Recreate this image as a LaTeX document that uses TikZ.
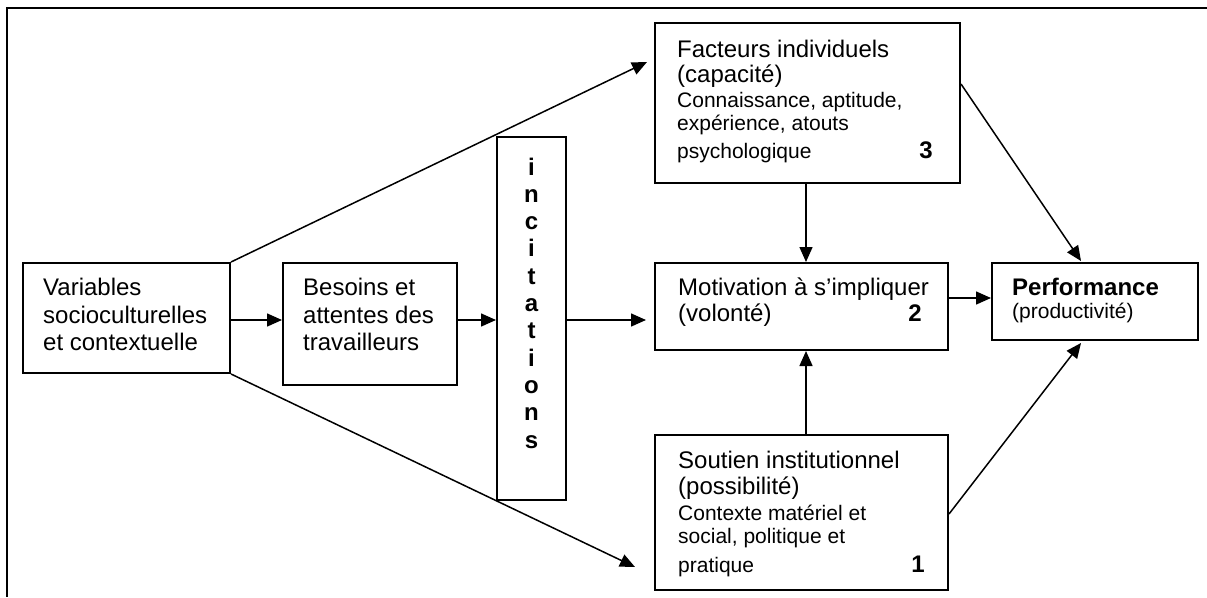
\documentclass[tikz,border=0pt]{standalone}
\usepackage{fontspec}
\setmainfont{Liberation Sans}
\usetikzlibrary{arrows.meta,calc}
\tikzset{
  boxnode/.style={draw, line width=2pt, rectangle, inner sep=0pt},
  arr/.style={line width=1.5pt, -{Triangle[length=15pt,width=13pt]}},
  big/.style={anchor=base west, inner sep=0pt, font=\fontsize{24}{26}\selectfont},
  small/.style={anchor=base west, inner sep=0pt, font=\fontsize{21}{23}\selectfont},
  num/.style={anchor=base east, inner sep=0pt, font=\fontsize{24}{26}\selectfont\bfseries},
  letter/.style={anchor=base, inner sep=0pt, font=\fontsize{24}{26}\selectfont\bfseries}
}
\begin{document}
\begin{tikzpicture}[x=1pt,y=-1pt]
\useasboundingbox (0,0) rectangle (1207,597);
% frame
\coordinate (frTR) at (1207,8);
\coordinate (frTL) at (7,8);
\coordinate (frBL) at (7,597);
\draw[line width=2pt] (frTR) -- (frTL) -- (frBL);

% boxes
\node[boxnode, minimum width=207pt, minimum height=110pt] (var) at (126.5,318) {};
\node[boxnode, minimum width=174pt, minimum height=122pt] (bes) at (370,324) {};
\node[boxnode, minimum width=69pt, minimum height=363pt] (inc) at (531.5,318.5) {};
\node[boxnode, minimum width=305pt, minimum height=160pt] (fac) at (807.5,103) {};
\node[boxnode, minimum width=293pt, minimum height=87pt] (mot) at (801.5,306.5) {};
\node[boxnode, minimum width=293pt, minimum height=155pt] (sou) at (801.5,512.5) {};
\node[boxnode, minimum width=206pt, minimum height=77pt] (perf) at (1095,301.5) {};

% texts
\node[big] (v1) at (43,295) {Variables};
\node[big] (v2) at (43,323) {socioculturelles};
\node[big] (v3) at (43,350) {et contextuelle};

\node[big] (b1) at (303,295) {Besoins et};
\node[big] (b2) at (303,323) {attentes des};
\node[big] (b3) at (303,350) {travailleurs};

\foreach \l [count=\k from 0] in {i,n,c,i,t,a,t,i,o,n,s}
  \node[letter] (inc\k) at (531.5,{175+27.3*\k}) {\l};

\node[big] (f1) at (677,57) {Facteurs individuels};
\node[big] (f2) at (677,82) {(capacité)};
\node[small] (f3) at (677,107) {Connaissance, aptitude,};
\node[small] (f4) at (677,130) {expérience, atouts};
\node[small] (f5) at (677,158) {psychologique};
\node[num] (f6) at (933,158) {3};

\node[big] (m1) at (678,295) {Motivation à s’impliquer};
\node[big] (m2) at (678,321) {(volonté)};
\node[num] (m3) at (922,321) {2};

\node[big, font=\fontsize{24}{26}\selectfont\bfseries] (p1) at (1012,295) {Performance};
\node[small] (p2) at (1012,318) {(productivité)};

\node[big] (s1) at (678,468) {Soutien institutionnel};
\node[big] (s2) at (678,494) {(possibilité)};
\node[small] (s3) at (678,520) {Contexte matériel et};
\node[small] (s4) at (678,543) {social, politique et};
\node[small] (s5) at (678,572) {pratique};
\node[num] (s6) at (925,572) {1};

% helper coordinates
\coordinate (r) at (0,320);
\coordinate (r2) at (0,298);
\coordinate (mx) at (806,0);
\coordinate (tipF) at (647,62);
\coordinate (tipS) at (635,567);

% connectors
\draw[arr] (var.north east) -- (tipF);
\draw[arr] (var.south east) -- (tipS);
\draw[arr] (var.east |- r) -- (bes.west |- r);
\draw[arr] (bes.east |- r) -- (inc.west |- r);
\draw[arr] (inc.east |- r) -- ($(mot.west |- r)+(-8,0)$);
\draw[arr] (fac.south -| mx) -- (mot.north -| mx);
\draw[arr] (sou.north -| mx) -- (mot.south -| mx);
\draw[arr] (mot.east |- r2) -- (perf.west |- r2);
\draw[arr] ($(fac.north east)+(0,62)$) -- ($(perf.north west)+(90,-1)$);
\draw[arr] ($(sou.north east)+(0,80)$) -- ($(perf.south west)+(90,2)$);
\end{tikzpicture}
\end{document}
